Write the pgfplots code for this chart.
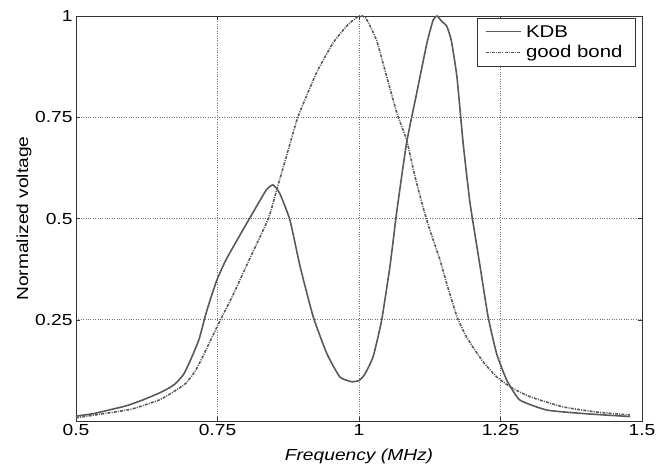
\documentclass[border=0pt]{standalone}
\usepackage{fontspec}
\setmainfont{Liberation Sans}[FakeStretch=1.2]
\usepackage{pgfplots}
\pgfplotsset{compat=1.18}
\begin{document}
\begin{tikzpicture}
\path[use as bounding box] (-76bp,-50bp) rectangle (582bp,421bp);
\begin{axis}[
  scale only axis,
  width=566bp, height=405bp,
  xmin=0.5, xmax=1.5, ymin=0, ymax=1,
  xtick={0.5,0.75,1,1.25,1.5},
  xticklabels={0.5,0.75,1,1.25,1.5},
  ytick={0.25,0.5,0.75,1},
  yticklabels={0.25,0.5,0.75,1},
  tick align=inside,
  major tick length=4bp,
  tick style={black!80},
  ticklabel style={font=\fontsize{16bp}{18bp}\selectfont},
  grid=major,
  major grid style={black!55, dotted, line width=0.6pt},
  axis line style={black!80, line width=0.6pt},
  xlabel={\fontsize{16bp}{18bp}\selectfont\itshape Frequency (MHz)},
  ylabel={\fontsize{16bp}{18bp}\selectfont Normalized voltage},
  xlabel style={at={(axis description cs:0.5,0)}, anchor=center, yshift=-35bp},
  ylabel style={at={(axis description cs:-0.092,0.5)}, anchor=center, rotate=0},
  legend style={at={(axis description cs:0.989,0.995)}, anchor=north east,
    font=\fontsize{17bp}{20bp}\selectfont, draw=black!80, line width=0.6pt,
    inner xsep=8bp, inner ysep=5bp, row sep=3bp, cells={anchor=west},
    nodes={inner xsep=5bp}},
  legend image code/.code={\draw[#1, line width=1pt] (0bp,0bp) -- (35bp,0bp);},
]
\addplot[black!65, line width=1.6pt, smooth, tension=0.3] coordinates {
(0.5,0.012) (0.53,0.018) (0.558,0.027) (0.59,0.038) (0.618,0.052)
(0.647,0.069) (0.665,0.082) (0.677,0.094) (0.69,0.115) (0.70,0.143) (0.717,0.2) (0.730,0.267)
(0.741,0.316) (0.75,0.352) (0.765,0.398) (0.788,0.455) (0.812,0.513)
(0.836,0.57) (0.848,0.583) (0.86,0.562) (0.878,0.496) (0.896,0.381) (0.919,0.258)
(0.943,0.167) (0.966,0.109) (0.987,0.097) (1.0,0.100) (1.01,0.115)
(1.025,0.159) (1.040,0.249) (1.055,0.385) (1.067,0.52) (1.084,0.686)
(1.102,0.81) (1.12,0.933) (1.131,0.99) (1.138,1.0) (1.146,0.987)
(1.155,0.975) (1.163,0.94) (1.173,0.85) (1.184,0.686) (1.196,0.54)
(1.214,0.381) (1.228,0.258) (1.243,0.167) (1.261,0.101) (1.284,0.052)
(1.332,0.027) (1.4,0.018) (1.479,0.011)
};
\addlegendentry{KDB}
\addplot[black!65, line width=1.6pt, smooth, tension=0.3,
  dash pattern=on 3pt off 1.2pt on 1pt off 1.2pt] coordinates {
(0.5,0.008) (0.558,0.02) (0.6,0.03) (0.647,0.052) (0.67,0.07) (0.694,0.093)
(0.71,0.122) (0.724,0.159) (0.75,0.235) (0.777,0.31) (0.806,0.398) (0.84,0.5)
(0.853,0.563) (0.87,0.645) (0.892,0.75) (0.925,0.86) (0.954,0.933)
(0.98,0.978) (1.0,1.0) (1.012,0.995) (1.031,0.94) (1.049,0.85)
(1.067,0.76) (1.084,0.694) (1.099,0.603) (1.113,0.529) (1.125,0.472)
(1.143,0.398) (1.158,0.325) (1.173,0.258) (1.187,0.215) (1.201,0.183) (1.22,0.145)
(1.243,0.109) (1.27,0.082) (1.302,0.06)
(1.36,0.035) (1.42,0.022) (1.479,0.015)
};
\addlegendentry{good bond}
\end{axis}
\end{tikzpicture}
\end{document}
